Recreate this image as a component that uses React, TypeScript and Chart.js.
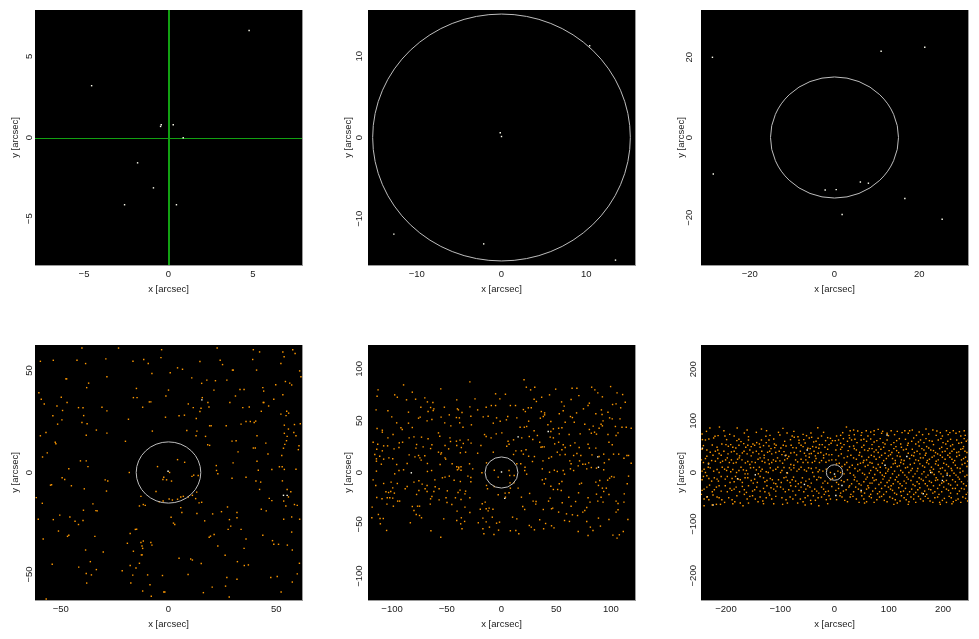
import React, { useEffect, useRef } from 'react';
import { Chart, registerables } from 'chart.js';

Chart.register(...registerables);

const FONT = "'Liberation Sans', Arial, Helvetica, sans-serif";
const FONT_SIZE = 9.5;
const TEXT = '#1a1a1a';
const ORANGE = '#ff9900';
const WHITE = '#fffff0';
const RING = '#bdbdbd';
const GREEN = '#12a012';
const FRAME = '#9a9a9a';

// axis half-ranges (arcsec) and tick values for the six panels
const X_MAX = [7.9, 15.75, 31.5, 62, 122, 246];
const Y_MAX = [7.85, 15.7, 31.8, 62.5, 123, 247];
const TICKS = [
  [-5, 0, 5],
  [-10, 0, 10],
  [-20, 0, 20],
  [-50, 0, 50],
  [-100, -50, 0, 50, 100],
  [-200, -100, 0, 100, 200],
];
const RING_RADIUS = [0, 15.2, 15.1, 15, 15, 15];
const CROSS_AT = [0, 0];
const Y_LABEL_OFFSET = [6, 8.5, 11.5, 6, 8.5, 8];
const X_TITLE = 'x [arcsec]';
const Y_TITLE = 'y [arcsec]';

// panel 1
const P1_WHITE = [[4.77, 6.59], [-4.55, 3.19], [-0.43, 0.78], [-0.47, 0.68], [0.28, 0.78], [0.87, -0.02], [-1.83, -1.56], [-0.89, -3.1], [-2.6, -4.14], [0.47, -4.14]];
// panel 2
const P2_WHITE = [[-0.15, 0.58], [0, 0.12], [10.4, 11.3], [-12.7, -11.9], [-2.1, -13.1], [13.45, -15.1]];
// panel 3
const P3_WHITE = [[-28.8, 20], [11, 21.5], [21.3, 22.5], [-28.6, -9.1], [-2.2, -13.1], [0.4, -13], [6.1, -11.1], [8, -11.4], [16.6, -15.2], [1.8, -19.2], [25.4, -20.4]];

// panel 4
const P4_ORANGE = [[-40.2,61],[-23.2,61],[22.6,61],[-3.2,60.2],[39.4,60.2],[57.7,60.2],[53.1,59.1],[42.3,59.1],[58.8,58.3],[53.7,56.7],[39.1,55.4],[-29.1,55.7],[-11.5,55.4],[-3.5,56.3],[14.6,54.4],[24,55],[-59.5,54.5],[-53.5,55],[-42.5,55],[-16.5,54.5],[-38.5,53.4],[-9.4,53.4],[4.2,51.3],[6.5,50.6],[25.1,52.9],[52.2,53.4],[29.7,50.2],[30.1,50.2],[40.9,50.2],[60.9,49.8],[-7.7,48.5],[0.8,48.9],[10.8,46.4],[-28.6,46.9],[61.5,46.9],[-47.7,45.9],[-47.3,45.9],[17.8,45.3],[21.8,45],[27.1,45.3],[54.3,44.6],[15.4,43.7],[-37.1,43.8],[56.3,43.8],[57.2,42.9],[49.8,43],[-38,41.6],[-14.9,41.2],[43.8,41.6],[33.2,40.7],[35.1,40.7],[0,40.4],[21.1,40.4],[-60.2,39.1],[44.2,39.9],[53.1,38.1],[31.1,37.5],[-49.8,36.9],[-16.3,36.7],[-14.6,36.7],[-1.2,37.5],[15.7,36.7],[-59.1,35.9],[48.9,35.9],[-8.9,34.6],[-8.2,34.6],[18.3,34.3],[28.5,34.3],[44,34.3],[44.3,34.3],[46.5,32.6],[-47.1,34.3],[-57.7,33.6],[-51.8,32.6],[18.8,32.1],[-30.9,32],[-41.8,31.8],[-39.7,31.7],[-12,32],[9.2,33.6],[11.5,31.8],[15.1,31.5],[34.5,31.8],[37.5,32.1],[-28.6,30.2],[-49.2,30.4],[14.6,29.9],[43.1,30],[54.9,30],[55.8,29.1],[52.2,28.6],[54.6,27.9],[-53.7,27.8],[-39.4,27.9],[4.9,27.8],[7.4,28.1],[-1.4,27.1],[-49.5,25.8],[-18.6,26.1],[12.9,26.5],[-40.2,24.5],[-37.8,23.9],[-51.5,23.7],[36,25],[38,25],[39.8,24.5],[40.5,25.2],[58.5,23.5],[53.8,23.2],[19.1,22.9],[19.8,22.9],[26.8,22.9],[33.7,23.7],[61.2,23.9],[-33.5,20.8],[-7.5,20.3],[8.5,20.6],[13.2,20.3],[55.7,21.3],[58.2,19.6],[-56.9,19.6],[-28.6,19.3],[53.8,19.2],[-59.5,18],[-38.2,18.3],[12.8,18],[17.2,17.7],[41.1,18],[55.1,17.7],[59.2,18],[-20,15.3],[-52.6,14.8],[-52.3,14.1],[29.5,15.4],[31.4,15.6],[45.2,14.4],[54.8,15.6],[18.2,13.6],[19.1,13.3],[60.6,13.1],[54,13.8],[39.4,12],[40.3,12],[53.4,11.9],[60.3,11.2],[-56.3,9.6],[-58.5,7.6],[32.3,10.1],[46.2,9.1],[52.6,8.3],[-40.9,5.7],[-38.2,5.7],[30,4.7],[-5.1,2.9],[22.2,3.4],[41.1,5.5],[4.2,6.3],[7.5,5],[-46.3,1.8],[-37.4,2.9],[51.5,2.8],[52.8,2.8],[53.8,1.5],[48,1.5],[22.3,1],[22.9,-0.6],[41.7,1.1],[59.2,1.6],[-18.2,0],[0.5,0],[10.9,-1.9],[11.7,-1.3],[13.8,-1.5],[-2.2,-2.3],[-2.6,-3.4],[-0.9,-3.6],[1.4,-4.2],[-49.4,-2.6],[-48.2,-3.4],[-54.3,-6],[-54.8,-6.2],[-45.1,-6.5],[-29.4,-3.6],[-28.2,-4.2],[29.5,-2.8],[36,-2.3],[40.6,-4.2],[42.8,-4.7],[52.9,-4.1],[-39.1,-8],[-28.8,-9.1],[42.3,-8.3],[55.1,-8.3],[56.8,-9.4],[-5.8,-9.3],[13.1,-9.6],[-12.8,-11.7],[6.9,-11.7],[5.7,-12],[4.2,-13.1],[1.8,-13.5],[0.3,-13],[-2.5,-14],[9.2,-12],[11.1,-11.2],[12.6,-12.8],[14.2,-14.9],[15.4,-14.6],[46.8,-12.7],[48,-13.8],[55.7,-12],[53.5,-14],[-61.4,-12.3],[-58.6,-15.1],[-35.1,-15.4],[-13.5,-16.4],[-11.7,-15.7],[-10.8,-16.1],[-4.3,-14.4],[5.7,-17.2],[27.4,-16.9],[54.5,-16.4],[58.5,-15.7],[59.8,-16.1],[-33.7,-18.7],[-39.5,-18.5],[-33.1,-18.8],[6.2,-19.6],[43.1,-18],[13.2,-20.1],[20.5,-20.3],[24.6,-19.2],[31.8,-19.6],[45.4,-18.8],[-53.5,-23.1],[-60.5,-22.9],[-50.5,-20.9],[-45.8,-21.8],[-43.4,-23.9],[-39.7,-23.5],[-41.8,-25.5],[1.2,-21.9],[2.3,-24.8],[2.9,-25.5],[16.8,-23.7],[28.3,-23.1],[28.9,-26.3],[31.8,-22.2],[53.5,-22.9],[57.2,-21.8],[60.9,-22.9],[-51.1,-28.7],[-46.3,-30.8],[-46.9,-31.3],[-34.2,-31.3],[-17.8,-29.9],[-15.4,-27.9],[-14.8,-27.8],[27.7,-27.9],[33.7,-27.9],[36,-32.6],[43.8,-30.8],[57.2,-29.2],[18.9,-31.7],[19.5,-31.2],[21.2,-30.4],[-58.2,-32.6],[-19.1,-34.7],[-12.8,-34.3],[-11.7,-33.6],[-8.2,-34.3],[-7.7,-35.6],[-12,-37.2],[-12.3,-36],[48.3,-33.4],[48.9,-35.2],[51.1,-35.2],[55.2,-35.6],[22.9,-36],[-38.5,-38],[-30.3,-39],[-16.3,-38.6],[-12.6,-40.4],[-12.2,-40.4],[35.1,-37.2],[57.5,-38],[-36.3,-43.7],[10.3,-42.4],[11.1,-42.9],[15.2,-44.6],[26.3,-40.6],[32,-43.7],[4.9,-42],[-13.5,-44.5],[-15.1,-46.8],[60.8,-44.5],[-54,-45],[-41.7,-46.4],[-33.5,-47.6],[-17.8,-45.6],[-2.8,-50.5],[35.2,-45.6],[37.1,-45.3],[-21.5,-48.2],[-38.2,-49.5],[-35.8,-50.2],[-16.6,-50.3],[-9.7,-50.2],[9.1,-50],[47.5,-51.5],[50.5,-51],[57.5,-53.7],[59.8,-49.7],[-38,-54.2],[-17.5,-54.2],[31.8,-52.3],[27.1,-51.5],[-12,-58.1],[-8.6,-55],[-2.2,-58.6],[16.2,-58.9],[26.5,-55.7],[52.3,-58.6],[20.3,-56.2],[-56.8,-62],[-8,-60.7],[28.2,-61],[-1.7,-58.6]];
const P4_WHITE = [[15.5, 35.6], [-0.2, 0.6], [53.4, -11.2], [55.1, -11.2]];

// panel 5
const P5_ORANGE = [[-28.9,87.4],[-89.5,84.5],[-55.5,80.7],[-112.8,79.7],[-81.5,77.5],[-113.7,73.6],[-97.6,74.9],[-95.2,72.6],[-86.8,70.1],[-78.5,70.7],[-70.1,72],[-67.7,68.1],[-62.7,67.5],[-40.9,70.1],[-24.2,71],[-5.4,75.9],[-1.5,71],[-73.7,63],[-64.8,62.7],[-61.8,61.4],[-62.4,59.8],[-52.2,63],[-40.3,61.4],[-39.4,60.4],[-28.9,63.3],[-21.8,60.4],[-14,63],[-9.3,64.6],[-5.4,64.6],[-114.6,60.4],[-103.8,59.5],[-85,58.2],[-67.1,58.8],[-47.7,55.6],[-36.1,57.9],[-28,54.3],[-16.7,53.7],[-12.2,54.3],[-100.3,53.7],[-75.8,52.4],[-74.3,53.4],[-63.6,51.1],[-55.2,53.4],[-41.2,53],[-38.5,52.7],[-4.5,52.7],[-95.8,47.9],[-85,47.6],[-68,49.8],[-51.9,47.9],[-46.3,45],[-38.2,47.9],[-27.5,46],[-7.5,47.6],[-1.2,49.5],[-113.7,42.4],[-108.9,40.8],[-91.9,43.1],[-90.7,41.5],[-81.5,43.4],[-35.2,43.7],[-108.9,38.9],[-99.1,36.6],[-103.8,33.4],[-84.4,33.4],[-80,34.4],[-73.1,34.1],[-67.1,32.5],[-57.6,38.2],[-56.4,35],[-47.1,33.4],[-41.2,30.2],[-37.9,31.2],[-30.4,31.5],[-15.5,36.6],[-14,34.7],[-9.5,33.4],[-4.8,37.3],[-117.3,29.2],[-113.1,27.3],[-107.7,25.7],[-104.1,25.7],[-93.4,28.6],[-90.4,29.2],[-77.6,27],[-63.6,26.7],[-51.6,26],[-46.6,29.9],[-40.9,26],[-34.9,28],[-27.8,28.3],[-18.8,26],[-114,22.5],[-108.9,20.9],[-98.2,22.8],[-93.7,24.1],[-84.4,17],[-78.2,23.5],[-71.6,24.7],[-64.8,23.1],[-54.9,19],[-48.3,22.8],[-37.6,19],[-36.7,24.1],[-32.8,19.6],[-21.8,18.6],[-7.5,19.6],[-115.8,17.4],[-114.3,13.2],[-111.3,15.7],[-107.7,12.9],[-102.9,14.1],[-99.4,13.2],[-79.1,15.1],[-75.8,16.4],[-74.6,14.1],[-70.1,16.1],[-57.6,19.6],[-55.5,17.7],[-51.6,14.1],[-51,12.9],[-114.3,10.9],[-109.8,8],[-95.8,7.7],[-86.2,8.7],[-73.4,11.9],[-67.7,8.7],[-56.1,7.7],[-40.9,5.5],[-39.1,5.1],[-37,5.5],[-39.1,3.5],[-45.1,8.4],[-29.2,8.4],[-13.7,9.3],[-114.3,1.3],[-97.6,-1.3],[-93.7,1.9],[-89.5,2.6],[-67.7,1],[-63.9,1.9],[-40.3,2.6],[-37,2.2],[-30.7,-3.5],[-26.3,3.5],[-17.9,-0.3],[-6.6,2.2],[-117.3,-7.1],[-107.7,-10.6],[-100.9,-9.3],[-95.2,-10.6],[-99.4,-14.8],[-114.9,-12.5],[-86.2,-13.5],[-80,-9.3],[-75.5,-8],[-72.5,-11.2],[-68,-12.5],[-60.6,-13.8],[-60.9,-7.1],[-54,-5.1],[-51.6,-4.5],[-47.7,-3.5],[-43.3,-7.4],[-37.6,-8.7],[-28,-9],[-28,-4.8],[-13.7,-12.5],[-3,-4.5],[-105.6,-18.6],[-103.2,-19.3],[-101.2,-18.3],[-97.9,-19.9],[-109.2,-25.4],[-104.4,-24.4],[-102.1,-24.4],[-99.4,-24.7],[-94.9,-27.6],[-93.1,-27.6],[-114,-24.1],[-88,-15.7],[-77.6,-21.2],[-75.5,-17.4],[-69.8,-15.7],[-68,-18.3],[-63.6,-23.1],[-64.8,-25.4],[-61.8,-18.3],[-57,-15.7],[-49.5,-17.7],[-49.8,-28.9],[-39.7,-19.3],[-37.9,-17],[-37,-26],[-42.1,-24.4],[-28.9,-24.4],[-32.8,-18],[-33.4,-20.6],[-17.6,-30.2],[-14.9,-28.6],[-12.8,-15.7],[-6.6,-13.5],[-3,-21.5],[-118.2,-33.4],[-104.7,-30.5],[-98.8,-32.5],[-81.5,-32.8],[-80,-36.6],[-76.7,-32.5],[-74.9,-32.5],[-65.1,-30.5],[-57,-26.4],[-50.7,-24.4],[-45.4,-30.9],[-40.6,-37.3],[-33.4,-33.4],[-28.9,-38.6],[-19.4,-35.4],[-14,-35],[-12.2,-37],[-11.3,-34.4],[-7.8,-35.4],[-8.4,-43.1],[-112.5,-40.5],[-111,-44.4],[-108,-44.4],[-118.5,-43.7],[-77.9,-40.5],[-74.9,-41.5],[-73.1,-43.7],[-52.8,-44.7],[-40.9,-46.3],[-36.7,-43.7],[-33.7,-47.2],[-37.3,-49.5],[-36.1,-54.3],[-17,-44],[-21.2,-48.5],[-17,-54.3],[-11,-52.7],[-14,-47.6],[-4.5,-48.9],[-1.8,-47.9],[-110.7,-49.5],[-83.3,-48.5],[-64.5,-56.2],[-105,-55.9],[-55.5,-62.4],[-16.1,-59.1],[-6.9,-59.8],[-2.7,-55.6],[20.6,89.4],[26.6,79.7],[22.7,82.3],[30.4,82.3],[3.6,75.5],[64.5,81.3],[68.9,81.3],[49.5,80.4],[82.4,82.3],[85.3,79.7],[88,76.8],[99.7,82.9],[105.6,76.8],[36.7,72.6],[43.9,74.9],[63.6,70.4],[70.7,74.2],[92.2,73],[110.7,75.2],[29.8,70.7],[31.9,68.5],[8.1,64.6],[12.8,64.6],[24.5,62.4],[27.2,62.4],[20,60.7],[21.8,58.8],[36.4,58.8],[39.4,57.5],[38.2,54],[54.9,68.1],[57.3,64],[56.4,59.5],[52.8,56.6],[63,54],[64.8,53],[68.6,57.5],[74.9,61.4],[79.1,64.6],[80.3,66.9],[86.2,56.6],[91.3,60.4],[91.9,55.9],[97.3,58.2],[101.5,65.6],[104.7,66.2],[108.9,62.4],[113.1,67.8],[4.5,50.8],[5.7,54],[14,52.7],[24.8,49.5],[35.5,52.4],[39.4,55.6],[42.4,46],[45.1,49.2],[58.2,48.5],[66.5,48.5],[76.1,46.6],[83.8,44.7],[91,46.6],[92.8,49.8],[98.8,52.7],[101.2,51.7],[104.1,44.4],[108.3,51.7],[110.1,43.7],[118.5,42.7],[17,43.7],[20.9,43.7],[23,44.4],[29.8,40.2],[45.1,39.5],[47.4,42.1],[52.2,42.7],[52.8,37.3],[55.2,43.1],[61.8,36.6],[71.9,37.3],[80.3,41.5],[82.1,37.9],[85,38.9],[86.8,37],[89.2,42.7],[92.2,45],[97.3,36.6],[98.2,29.2],[104.7,35.7],[106.5,38.2],[114,43.7],[0.3,38.2],[6,30.2],[4.8,25.4],[6.9,27.3],[11,31.5],[18.5,33.4],[25.4,34.7],[28.6,31.8],[32.8,35.7],[34.9,29.2],[36.1,24.4],[37.3,24.7],[39.1,24.7],[44.5,34.1],[47.4,33.4],[48.6,27.6],[52.2,29.2],[56.4,26.7],[55.2,21.9],[58.2,24.1],[63,26],[67.1,28.6],[71,24.1],[79.1,27.3],[80.3,23.5],[82.7,17],[86.2,23.5],[89.2,15.4],[93.4,17.7],[94,9.3],[102.4,17.7],[101.2,26.7],[107.1,17.7],[98.2,12.5],[111.9,13.8],[114.6,16.4],[116.1,16.4],[118.5,9],[11,17.4],[13.1,20.9],[18.2,20.9],[20,17.7],[22.4,21.9],[24.8,15.7],[30.1,15.4],[37.9,11.2],[43.3,13.8],[45.7,15.1],[51,19.6],[53.4,17],[58.2,17.4],[62.4,11.2],[63.6,8.4],[65.9,16.4],[68.9,18.3],[71.3,11.2],[72.5,16.4],[74.3,8],[76.7,8],[14,8.4],[17.6,8.4],[21.5,5.1],[21.2,1.9],[23,-1.6],[28.3,10.6],[37.3,3.5],[43.9,0.3],[48.3,2.2],[51,1],[56.4,1.9],[57.6,-1.6],[63,3.5],[65.9,1.9],[70.1,6.4],[77.9,3.5],[79.7,9.3],[82.1,4.8],[86.8,4.2],[93.4,2.6],[6.9,1.9],[7.5,-2.9],[11.6,-2.9],[7.8,-10],[11.3,-10],[8.1,-15.1],[3.3,-19.9],[3.6,-23.8],[6.9,-19.6],[15.2,-15.1],[18.2,-23.8],[25.7,-20.2],[28.9,-27.6],[31.6,-28],[37.3,-7.1],[39.1,-10.9],[40.3,-6.1],[45.1,-13.2],[47.4,-16.4],[51.3,-16.4],[55.2,-8.7],[52.8,-10.9],[54.6,-17.4],[43,-27.6],[44.5,-24.7],[46.8,-34.4],[52.2,-38.2],[55.5,-29.2],[61.5,-23.8],[63.6,-32.5],[71.3,-11.2],[73.1,-10.3],[70.4,-19.6],[67.7,-28],[77.9,-33.7],[76.1,-36.6],[80.9,-28.6],[79.1,-24.4],[86.2,-9.3],[88.6,-12.5],[89.8,-7.7],[92.2,-15.1],[93.4,-18.3],[95.8,-15.1],[97,-7.4],[98.8,-5.5],[100.6,-3.9],[102.9,-4.5],[91,-23.8],[86.8,-20.9],[88,-27.6],[92.8,-28.6],[98.2,-21.2],[104.7,-27.6],[106.5,-29.9],[111.9,-28.6],[114.9,-10.9],[116.1,-3.5],[112.2,-20.6],[19.4,-32.8],[21.2,-35.7],[31.3,-30.5],[38.2,-35.7],[45.7,-35],[59.4,-39.9],[64.8,-40.8],[69.5,-41.5],[74.3,-38.2],[77.9,-47.2],[81.2,-52.7],[83.6,-55.9],[88.6,-44],[98.2,-45.3],[104.7,-38.2],[106.5,-36],[115.5,-45.3],[10.1,-43.1],[14,-44.7],[25.4,-51.1],[27.2,-52.7],[34.9,-45.6],[38.5,-54.3],[40.3,-49.2],[45.7,-51.4],[48,-53.4],[57.6,-46.3],[62.1,-47.2],[70.1,-56.9],[79.1,-60.7],[90.4,-51.7],[101.8,-60.4],[105.6,-63.3],[107.7,-60.1],[111.3,-56.9],[8.1,-56.2],[13.1,-55.9],[15.8,-59.1],[30.1,-55.3]];
const P5_WHITE = [[-82.4, -0.3], [0, 0.5], [15.2, 34.4], [42.7, 39.5], [88, 15.1], [88.6, 5.1], [3, -25]];

// panel 6 (first reading pass)
const P6_ORANGE = [[-229.6,86.2],[-212,88.1],[-179.3,86.2],[-134.6,84.2],[-95,85.5],[-30.8,86.8],[-247.8,81],[-235.9,79.7],[-220.2,70.1],[-222.7,66.9],[-214.5,71.4],[-201.9,70.7],[-193.1,73.9],[-184.9,70.7],[-176.1,64.3],[-172.3,59.8],[-166.1,76.5],[-158.5,69.4],[-158.5,63],[-150.3,55.3],[-143.4,57.9],[-138.4,55.3],[-126.4,70.1],[-118.9,72],[-120.8,63],[-103.2,77.8],[-100.6,72.7],[-87.4,76.5],[-78,70.7],[-74.2,68.2],[-67.3,69.4],[-65.4,62.4],[-57.9,73.9],[-56.6,63.7],[-51.6,71.4],[-46.5,66.9],[-42.1,68.2],[-38.4,59.2],[-30.2,66.2],[-23.9,70.7],[-12.6,67.5],[-7.5,66.2],[-3.8,61.7],[-249.1,58.5],[-243.4,63.7],[-237.8,63],[-225.2,53.4],[-207.6,55.3],[-200,54],[-195.6,50.8],[-191.2,54],[-187.4,48.9],[-176.1,52.7],[-167.3,55.9],[-159.8,52.7],[-156,43.7],[-147.2,52.7],[-137.1,48.9],[-130.8,52.1],[-125.8,57.9],[-120.8,51.4],[-117,46.3],[-110.1,48.2],[-107.6,52.7],[-98.8,47.6],[-89.3,51.4],[-79.9,52.7],[-76.7,48.2],[-65.4,57.2],[-61.6,52.7],[-54.1,57.2],[-49.1,46.9],[-44.7,46.3],[-40.3,50.2],[-34,48.9],[-27.7,54],[-22.6,54],[-17.6,48.9],[-10.1,54],[-6.3,56.6],[-248.5,42.4],[-244,45],[-235.2,43.7],[-219.5,41.2],[-215.1,43.7],[-212.6,36.7],[-203.8,41.2],[-196.2,36],[-190,39.9],[-179.9,36],[-169.8,37.9],[-166.7,41.2],[-153.5,32.2],[-150.3,38.6],[-144,41.2],[-134,41.2],[-123.3,39.2],[-115.7,36],[-108.2,38.6],[-101.9,41.2],[-96.9,34.7],[-89.3,33.4],[-80.5,37.9],[-74.2,38.6],[-69.8,34.1],[-55.4,37.3],[-52.8,32.2],[-42.8,36.7],[-37.7,41.2],[-30.2,37.3],[-25.2,38.6],[-15.1,36],[-10.1,34.1],[-5,34.7],[-250.3,25.1],[-245.3,24.4],[-241.5,19.3],[-232.1,18],[-226.4,23.1],[-215.1,27],[-210.1,19.3],[-206.3,21.9],[-200.7,24.4],[-197.5,28.3],[-190,24.4],[-186.2,18],[-181.2,19.3],[-175.5,28.3],[-170.5,24.4],[-164.2,18.6],[-159.8,21.2],[-156,15.4],[-152.2,20.6],[-140.9,25.7],[-137.1,28.3],[-129.6,28.3],[-122,24.4],[-120.1,16.7],[-112.6,24.4],[-105,28.3],[-100.6,22.5],[-91.8,24.4],[-80.5,15.4],[-74.9,14.1],[-67.9,20.6],[-61.6,25.7],[-52.8,24.4],[-46.5,29.6],[-40.9,19.3],[-34,27],[-27.7,19.3],[-23.9,23.1],[-15.7,19.9],[-10.1,23.1],[-235.2,31.5],[-223.9,33.4],[-138.4,10.3],[-128.3,19.3],[-247.8,10.3],[-240.3,6.4],[-237.8,0],[-229,9],[-222.7,2.6],[-216.4,5.8],[-206.9,10.3],[-198.8,3.9],[-196.2,10.3],[-187.4,5.8],[-180.5,0],[-172.3,10.3],[-167.9,5.1],[-162.3,3.9],[-159.8,-2.6],[-149.1,9.6],[-144,5.1],[-140.3,-2.6],[-133.3,6.4],[-125.8,1.3],[-118.3,9],[-113.2,3.9],[-104.4,10.3],[-99.4,0],[-93.1,9.6],[-86.8,-1.3],[-79.9,5.1],[-74.9,9],[-69.2,2.6],[-61.6,10.3],[-55.4,5.1],[-47.8,9],[-40.3,0],[-34,9],[-27.7,5.1],[-21.4,2.6],[-249.1,-9],[-244,-14.1],[-235.2,-6.4],[-231.5,-11.6],[-221.4,-10.3],[-213.9,-16.7],[-208.8,-7.7],[-201.3,-12.9],[-192.5,-19.3],[-188.7,-11.6],[-182.4,-7.7],[-173.6,-14.1],[-169.8,-19.3],[-159.8,-10.3],[-153.5,-15.4],[-147.2,-12.9],[-142.2,-19.3],[-130.8,-10.3],[-124.5,-15.4],[-118.3,-11.6],[-112,-20.6],[-108.2,-21.9],[-103.2,-14.1],[-93.1,-10.3],[-86.8,-15.4],[-81.8,-19.3],[-75.5,-9],[-71.7,-16.7],[-66.7,-21.9],[-59.1,-10.3],[-52.8,-16.7],[-42.8,-20.6],[-37.7,-7.7],[-32.7,-14.1],[-25.2,-10.3],[-17.6,-16.7],[-12.6,-20.6],[-7.5,-14.1],[-247.8,-27],[-240.3,-32.2],[-230.2,-24.4],[-225.2,-37.3],[-217.6,-28.3],[-208.8,-36],[-201.3,-25.7],[-192.5,-30.9],[-189.3,-34.7],[-181.2,-28.3],[-174.9,-37.3],[-166.1,-33.4],[-158.5,-25.7],[-151,-36],[-143.4,-28.3],[-137.1,-36],[-130.8,-30.9],[-124.5,-25.7],[-120.8,-39.9],[-112,-32.2],[-105.7,-27],[-99.4,-28.3],[-90.6,-37.3],[-84.3,-33.4],[-76.7,-36],[-71.7,-27],[-65.4,-34.7],[-56.6,-37.3],[-49.1,-25.7],[-41.5,-36],[-36.5,-32.2],[-28.9,-39.9],[-23.9,-28.3],[-16.4,-37.3],[-11.3,-36],[-249.1,-39.9],[-245.3,-42.4],[-235.2,-47.6],[-231.5,-52.7],[-216.4,-47.6],[-212.6,-48.9],[-202.5,-57.9],[-188.7,-52.7],[-179.9,-45],[-173.6,-59.2],[-166.1,-42.4],[-156,-46.3],[-145.9,-51.4],[-137.1,-47.6],[-132.1,-55.3],[-119.5,-43.7],[-115.7,-51.4],[-96.9,-48.9],[-81.8,-47.6],[-71.7,-43.7],[-62.9,-51.4],[-54.1,-48.9],[-44,-54],[-39,-45],[-30.2,-48.9],[-18.9,-42.4],[-15.1,-52.7],[-7.5,-51.4],[-240.3,-64.3],[-225.2,-63],[-217.6,-61.7],[-187.4,-60.4],[-158.5,-59.2],[-130.8,-60.4],[-95.6,-61.7],[-86.8,-59.2],[-67.9,-59.2],[-42.8,-60.4],[-28.9,-64.3],[-12.6,-60.4],[22,88.1],[28.9,81],[42.8,80.4],[58.5,81],[73,81],[88.7,79.7],[104.4,81],[129.6,81],[143.4,82.3],[168.6,84.2],[181.2,82.3],[188.7,80.4],[206.3,81],[218.9,81],[230.2,79.1],[240.9,72],[247.2,74.6],[3.8,70.7],[11.3,72],[27,72],[36.5,73.3],[49.1,72],[61.6,70.7],[73,73.3],[86.8,75.9],[99.4,71.4],[110.7,73.3],[124.5,77.2],[135.9,75.9],[151,72],[162.3,73.3],[173.6,74.6],[187.4,72],[198.8,70.7],[209.5,73.3],[223.9,75.9],[232.7,70.7],[7.5,63],[16.4,65.6],[23.9,60.4],[31.5,63],[41.5,57.9],[49.1,63],[59.1,60.4],[66.7,64.9],[78,61.7],[89.3,57.9],[96.9,63],[104.4,54],[114.5,61.7],[122,55.3],[130.8,64.3],[142.2,60.4],[149.7,55.3],[158.5,63],[164.8,57.9],[174.9,61.7],[182.4,54],[191.2,63],[200,57.9],[208.8,60.4],[217.6,54],[225.2,63],[234,57.9],[242.8,60.4],[249.1,55.3],[5,52.7],[17.6,54],[35.2,51.4],[54.1,52.7],[69.2,54],[81.8,50.2],[113.2,50.2],[134.6,52.7],[156,51.4],[169.8,50.2],[197.5,48.9],[213.9,51.4],[237.8,50.2],[2.5,43.7],[11.3,45],[25.2,42.4],[36.5,46.3],[46.5,38.6],[55.4,43.7],[64.2,46.3],[73,39.9],[76.7,43.7],[85.5,45],[93.1,37.3],[100.6,42.4],[109.4,46.3],[118.3,38.6],[127.1,43.7],[135.9,37.3],[143.4,45],[152.2,41.2],[161,46.3],[168.6,37.3],[177.4,43.7],[186.2,38.6],[193.7,46.3],[203.8,41.2],[212.6,37.3],[220.2,45],[229,39.9],[236.5,46.3],[244,38.6],[249.1,43.7],[7.5,32.2],[17.6,28.3],[30.2,33.4],[40.3,25.7],[50.3,30.9],[59.1,24.4],[67.9,33.4],[76.7,25.7],[83,29.6],[90.6,23.1],[99.4,32.2],[106.9,27],[115.7,32.2],[123.3,24.4],[142.2,33.4],[149.7,24.4],[158.5,28.3],[167.3,33.4],[174.9,25.7],[183.7,32.2],[191.2,24.4],[198.8,29.6],[208.8,33.4],[216.4,25.7],[225.2,30.9],[234,24.4],[241.5,29.6],[247.8,33.4],[3.8,16.7],[13.8,11.6],[22.6,19.3],[32.7,14.1],[37.7,7.7],[47.8,18],[56.6,11.6],[65.4,19.3],[71.7,10.3],[80.5,15.4],[88.1,18],[94.4,9],[99.4,6.4],[108.2,16.7],[115.7,11.6],[122,19.3],[130.8,9],[139.6,15.4],[147.2,18],[153.5,7.7],[162.3,12.9],[169.8,19.3],[178.6,10.3],[186.2,16.7],[195,7.7],[201.3,18],[210.1,11.6],[218.9,19.3],[226.4,9],[235.2,15.4],[244,11.6],[6.3,2.6],[17.6,-2.6],[23.9,5.1],[35.2,-5.1],[42.8,2.6],[51.6,-1.3],[60.4,-9],[66.7,3.9],[74.2,-3.9],[84.3,0],[91.8,-7.7],[98.1,2.6],[106.9,-2.6],[114.5,-9],[122,3.9],[129.6,-5.1],[137.1,0],[144.7,-7.7],[152.2,2.6],[161,-2.6],[168.6,-9],[176.1,3.9],[183.7,-3.9],[192.5,1.3],[200,-7.7],[207.6,-1.3],[216.4,3.9],[223.9,-5.1],[231.5,0],[240.3,-7.7],[247.8,-2.6],[3.8,-19.3],[12.6,-15.4],[23.9,-14.1],[31.5,-21.9],[41.5,-16.7],[49.1,-24.4],[57.9,-12.9],[65.4,-20.6],[73,-15.4],[81.8,-23.1],[89.3,-12.9],[96.9,-19.3],[104.4,-25.7],[112,-14.1],[120.8,-21.9],[128.3,-16.7],[135.9,-12.9],[144.7,-23.1],[152.2,-18],[159.8,-12.9],[167.3,-21.9],[174.9,-16.7],[182.4,-25.7],[190,-14.1],[197.5,-20.6],[206.3,-15.4],[213.9,-24.4],[222.7,-18],[230.2,-12.9],[237.8,-21.9],[246.6,-16.7],[7.5,-30.9],[16.4,-36],[26.4,-28.3],[35.2,-37.3],[44,-32.2],[55.4,-39.9],[62.9,-29.6],[70.4,-36],[79.3,-41.2],[86.8,-30.9],[95.6,-37.3],[103.2,-32.2],[110.7,-39.9],[118.3,-29.6],[127.1,-36],[134.6,-42.4],[142.2,-32.2],[149.7,-38.6],[157.3,-29.6],[166.1,-36],[173.6,-32.2],[181.2,-39.9],[190,-30.9],[197.5,-37.3],[206.3,-32.2],[213.9,-39.9],[222.7,-30.9],[230.2,-36],[239,-32.2],[246.6,-38.6],[10.1,-45],[18.9,-54],[28.9,-47.6],[40.3,-51.4],[50.3,-45],[59.1,-56.6],[67.9,-48.9],[78,-52.7],[86.8,-46.3],[96.9,-56.6],[106.9,-50.2],[115.7,-59.2],[123.3,-45],[132.1,-52.7],[140.9,-47.6],[149.7,-57.9],[158.5,-51.4],[167.3,-46.3],[176.1,-55.3],[184.9,-48.9],[193.7,-57.9],[202.5,-50.2],[211.3,-46.3],[218.9,-56.6],[227.7,-51.4],[236.5,-47.6],[245.3,-55.3],[55.4,-59.2],[109.4,-61.7],[135.9,-61.7],[195,-61.7],[216.4,-60.4]];
// panel 6 (second reading pass, points between the first ones)
const P6_ORANGE_MORE = [[-161,82.3],[-144,77.8],[-125.2,81],[-74.9,79.7],[-43.4,76.5],[-20.1,77.8],[-244,74.6],[-203.8,81],[-231.5,64.9],[-198.8,63.7],[-179.9,61.7],[-134.6,63],[-112,64.9],[-91.8,60.4],[-81.1,63.7],[-34,60.4],[-16.4,61.7],[-241.5,52.1],[-216.4,48.9],[-181.8,47.6],[-163.5,48.9],[-153.5,50.2],[-110.7,55.3],[-94.4,52.7],[-70.4,47.6],[-57.9,50.2],[-28.9,46.9],[-12.6,45],[-229,39.2],[-208.8,33.4],[-184.9,41.2],[-174.9,32.2],[-161,36],[-139.6,36],[-129.6,33.4],[-119.5,41.2],[-93.1,40.5],[-84.3,30.9],[-62.9,41.2],[-46.5,36],[-35.2,32.2],[-20.1,33.4],[-237.8,27],[-219.5,21.9],[-193.7,19.3],[-178.6,25.7],[-145.9,19.3],[-133.3,21.9],[-115.7,19.3],[-108.2,21.9],[-95.6,18],[-86.8,27],[-71.7,24.4],[-57.9,19.3],[-49.1,19.3],[-36.5,21.9],[-20.1,28.3],[-5,24.4],[-244,2.6],[-232.7,10.3],[-212.6,0],[-202.5,6.4],[-191.2,1.3],[-176.1,3.9],[-164.8,-2.6],[-154.7,9],[-135.9,2.6],[-122,0],[-108.2,6.4],[-96.9,3.9],[-83,9],[-65.4,6.4],[-51.6,2.6],[-42.8,7.7],[-30.2,1.3],[-15.1,6.4],[-7.5,0],[-241.5,-7.7],[-226.4,-16.7],[-216.4,-12.9],[-197.5,-7.7],[-184.9,-18],[-177.4,-12.9],[-164.8,-10.3],[-149.7,-20.6],[-137.1,-7.7],[-128.3,-18],[-114.5,-14.1],[-98.1,-19.3],[-89.3,-9],[-78,-14.1],[-61.6,-19.3],[-46.5,-12.9],[-28.9,-9],[-21.4,-20.6],[-3.8,-11.6],[-244,-34.7],[-235.2,-28.3],[-221.4,-33.4],[-212.6,-25.7],[-197.5,-37.3],[-184.9,-32.2],[-169.8,-27],[-162.3,-38.6],[-147.2,-33.4],[-128.3,-37.3],[-117,-29.6],[-108.2,-36],[-94.4,-32.2],[-80.5,-25.7],[-61.6,-28.3],[-52.8,-32.2],[-45.3,-28.3],[-32.7,-36],[-20.1,-32.2],[-5,-27],[-240.3,-51.4],[-223.9,-43.7],[-207.6,-52.7],[-195,-48.9],[-183.7,-56.6],[-161,-51.4],[-151,-45],[-140.9,-56.6],[-125.8,-48.9],[-108.2,-46.3],[-89.3,-52.7],[-76.7,-51.4],[-57.9,-56.6],[-49.1,-45],[-35.2,-54],[-23.9,-47.6],[-10.1,-45],[-210.1,-61.7],[-168.6,-64.3],[-112,-60.4],[-54.1,-63],[15.1,77.2],[35.2,82.3],[50.3,77.2],[66.7,78.4],[80.5,83.6],[96.9,75.9],[115.7,79.7],[138.4,81],[156,78.4],[195,77.2],[212.6,77.2],[239,81],[1.3,61.7],[11.3,56.6],[27.7,66.9],[37.7,64.3],[54.1,64.3],[73,59.2],[84.3,65.6],[93.1,55.3],[109.4,57.9],[119.5,65.6],[135.9,56.6],[145.9,66.9],[154.7,59.2],[168.6,65.6],[179.9,60.4],[196.2,65.6],[205.1,55.3],[213.9,64.3],[229,56.6],[239,65.6],[246.6,63],[13.8,48.9],[27.7,50.2],[40.3,43.7],[50.3,48.9],[61.6,42.4],[69.2,46.3],[80.5,38.6],[90.6,48.9],[105.7,38.6],[114.5,42.4],[123.3,48.9],[132.1,45],[147.2,38.6],[157.3,36],[164.8,43.7],[173.6,47.6],[182.4,42.4],[190,36],[198.8,39.9],[207.6,46.3],[216.4,41.2],[225.2,38.6],[232.7,45],[240.3,41.2],[2.5,24.4],[12.6,36],[23.9,30.9],[35.2,28.3],[45.3,33.4],[54.1,23.1],[62.9,29.6],[73,30.9],[86.8,33.4],[95.6,27],[103.2,34.7],[112,23.1],[120.8,30.9],[128.3,23.1],[138.4,27],[145.9,32.2],[154.7,23.1],[163.5,28.3],[171.1,23.1],[179.9,29.6],[187.4,21.9],[195,33.4],[203.8,25.7],[212.6,29.6],[221.4,23.1],[230.2,33.4],[237.8,27],[245.3,21.9],[8.8,18],[18.9,15.4],[27.7,10.3],[42.8,15.4],[52.8,19.3],[61.6,14.1],[69.2,18],[76.7,7.7],[84.3,10.3],[104.4,10.3],[112,18],[119.5,12.9],[127.1,16.7],[134.6,10.3],[143.4,7.7],[157.3,16.7],[166.1,10.3],[173.6,16.7],[182.4,6.4],[191.2,14.1],[198.8,9],[206.3,15.4],[215.1,7.7],[222.7,14.1],[231.5,7.7],[240.3,18],[1.3,-7.7],[11.3,0],[28.9,-1.3],[37.7,-9],[46.5,5.1],[55.4,-3.9],[64.2,-1.3],[70.4,-10.3],[79.3,3.9],[88.1,-5.1],[94.4,-1.3],[103.2,-10.3],[110.7,2.6],[118.3,-5.1],[125.8,0],[133.3,-9],[140.9,3.9],[148.4,-2.6],[156,-10.3],[164.8,1.3],[172.3,-5.1],[179.9,0],[187.4,-10.3],[196.2,-2.6],[203.8,3.9],[212.6,-6.4],[220.2,-1.3],[227.7,-9],[236.5,2.6],[244,-5.1],[7.5,-23.1],[17.6,-18],[27.7,-25.7],[36.5,-14.1],[45.3,-21.9],[54.1,-18],[61.6,-25.7],[69.2,-20.6],[76.7,-14.1],[85.5,-19.3],[93.1,-25.7],[100.6,-15.4],[108.2,-21.9],[117,-18],[124.5,-25.7],[132.1,-20.6],[140.9,-15.4],[148.4,-25.7],[156,-21.9],[163.5,-15.4],[171.1,-25.7],[178.6,-19.3],[186.2,-15.4],[193.7,-24.4],[201.3,-18],[210.1,-21.9],[217.6,-14.1],[226.4,-24.4],[234,-18],[242.8,-25.7],[2.5,-34.7],[11.3,-39.9],[21.4,-33.4],[30.2,-42.4],[39,-28.3],[49.1,-37.3],[59.1,-32.2],[66.7,-42.4],[75.5,-30.9],[83,-37.3],[90.6,-42.4],[99.4,-28.3],[106.9,-34.7],[114.5,-42.4],[122,-37.3],[130.8,-30.9],[138.4,-37.3],[145.9,-42.4],[153.5,-33.4],[161,-39.9],[169.8,-42.4],[177.4,-33.4],[184.9,-37.3],[192.5,-42.4],[201.3,-28.3],[210.1,-34.7],[217.6,-30.9],[226.4,-41.2],[234,-30.9],[242.8,-42.4],[3.8,-52.7],[13.8,-47.6],[23.9,-56.6],[34,-46.3],[45.3,-57.9],[54.1,-51.4],[64.2,-46.3],[73,-57.9],[83,-47.6],[91.8,-54],[101.9,-47.6],[112,-52.7],[120.8,-55.3],[128.3,-48.9],[137.1,-56.6],[145.9,-51.4],[154.7,-46.3],[163.5,-55.3],[172.3,-50.2],[181.2,-57.9],[190,-47.6],[198.8,-54],[206.3,-57.9],[215.1,-48.9],[223.9,-54],[232.7,-57.9],[241.5,-50.2]];
const P6_WHITE = [[-243.4,46.9],[-232.1,16.7],[-178.6,-12.2],[-145.9,-4.5],[-90.6,32.8],[-87.4,-0.6],[-50.3,43.7],[-55.4,-23.1],[-234.6,-46.9],[-223.9,-63],[0,-3],[96.9,72.7],[133.3,30.9],[93.1,14.1],[49.1,-34.7],[13.8,-25.1],[207.6,-5.1],[177.4,0],[163.5,-41.2],[198.8,-15.4],[2.5,-44.4]];

const ORANGE_SETS = [[], [], [], P4_ORANGE, P5_ORANGE, P6_ORANGE.concat(P6_ORANGE_MORE)];
const WHITE_SETS = [P1_WHITE, P2_WHITE, P3_WHITE, P4_WHITE, P5_WHITE, P6_WHITE];

const COL_LEFT = [0, 333, 666];
const ROW_TOP = [0, 335];
const CANVAS_W = 303;
const CANVAS_H = 300;

const fmt = (v: number) => (v < 0 ? '\u2212' + Math.abs(v) : String(v));

function measureWidest(labels: string[]): number {
  const c = document.createElement('canvas');
  const ctx = c.getContext('2d')!;
  ctx.font = `${FONT_SIZE}px ${FONT}`;
  return Math.max(...labels.map((l) => ctx.measureText(l).width));
}

function panelPlugin(i: number) {
  return {
    id: 'panelDecor' + i,
    beforeDatasetsDraw(chart: any) {
      const { ctx, chartArea: a, scales } = chart;
      ctx.save();
      ctx.fillStyle = '#000';
      ctx.fillRect(a.left, a.top, a.right - a.left, a.bottom - a.top);
      if (i === 0) {
        ctx.strokeStyle = GREEN;
        const px = Math.round(scales.x.getPixelForValue(CROSS_AT[0]));
        const py = Math.round(scales.y.getPixelForValue(CROSS_AT[1])) + 0.5;
        ctx.lineWidth = 1;
        ctx.beginPath();
        ctx.moveTo(a.left, py);
        ctx.lineTo(a.right, py);
        ctx.stroke();
        ctx.lineWidth = 2;
        ctx.beginPath();
        ctx.moveTo(px, a.top);
        ctx.lineTo(px, a.bottom);
        ctx.stroke();
      }
      ctx.restore();
    },
    afterDatasetsDraw(chart: any) {
      const { ctx, chartArea: a, scales } = chart;
      const r = RING_RADIUS[i];
      if (r > 0) {
        const cx = scales.x.getPixelForValue(0);
        const cy = scales.y.getPixelForValue(0);
        const rx = Math.abs(scales.x.getPixelForValue(r) - cx);
        const ry = Math.abs(scales.y.getPixelForValue(r) - cy);
        ctx.save();
        ctx.beginPath();
        ctx.rect(a.left, a.top, a.right - a.left, a.bottom - a.top);
        ctx.clip();
        ctx.strokeStyle = RING;
        ctx.lineWidth = 1;
        ctx.beginPath();
        ctx.ellipse(cx, cy, rx, ry, 0, 0, Math.PI * 2);
        ctx.stroke();
        ctx.restore();
      }
    },
    afterDraw(chart: any) {
      const { ctx, chartArea: a } = chart;
      ctx.save();
      ctx.strokeStyle = FRAME;
      ctx.lineWidth = 1;
      ctx.beginPath();
      ctx.moveTo(a.left, a.bottom + 0.5);
      ctx.lineTo(a.right + 1, a.bottom + 0.5);
      ctx.moveTo(a.right + 0.5, a.top);
      ctx.lineTo(a.right + 0.5, a.bottom + 1);
      ctx.stroke();
      ctx.restore();
    },
  };
}

function Panel({ index }: { index: number }) {
  const ref = useRef<HTMLCanvasElement>(null);
  useEffect(() => {
    if (!ref.current) return;
    const i = index;
    const font = { family: FONT, size: FONT_SIZE };
    const widest = measureWidest(TICKS[i].map(fmt));
    const yPad = Y_LABEL_OFFSET[i] - widest / 2;
    const setTicks = (s: any) => {
      s.ticks = TICKS[i].map((value) => ({ value }));
    };
    const pointDs = (pts: number[][], color: string) => ({
      data: pts.map(([x, y]) => ({ x, y })),
      backgroundColor: color,
      borderWidth: 0,
      pointStyle: 'rect',
      pointRadius: 1,
      pointHoverRadius: 1,
    });
    const chart = new Chart(ref.current, {
      type: 'scatter',
      data: {
        datasets: [pointDs(ORANGE_SETS[i], ORANGE), pointDs(WHITE_SETS[i], WHITE)],
      },
      options: {
        responsive: false,
        animation: false,
        events: [],
        layout: { padding: { top: 10, right: 1, left: 0, bottom: 0 } },
        plugins: { legend: { display: false }, tooltip: { enabled: false } },
        scales: {
          x: {
            type: 'linear',
            min: -X_MAX[i],
            max: X_MAX[i],
            grid: { display: false, drawTicks: false },
            border: { display: false },
            afterBuildTicks: setTicks,
            ticks: {
              autoSkip: false,
              maxRotation: 0,
              padding: 4,
              color: TEXT,
              font,
              callback: (v: any) => fmt(Number(v)),
            },
            title: { display: true, text: X_TITLE, color: TEXT, font, padding: { top: 0, bottom: 5.3 } },
            afterFit: (s: any) => {
              s.height = 35;
            },
          },
          y: {
            type: 'linear',
            min: -Y_MAX[i],
            max: Y_MAX[i],
            grid: { display: false, drawTicks: false },
            border: { display: false },
            afterBuildTicks: setTicks,
            ticks: {
              autoSkip: false,
              minRotation: 90,
              maxRotation: 90,
              crossAlign: 'center',
              padding: yPad,
              color: TEXT,
              font,
              callback: (v: any) => fmt(Number(v)),
            },
            title: { display: true, text: Y_TITLE, color: TEXT, font, padding: { top: 9.3, bottom: 0 } },
            afterFit: (s: any) => {
              s.width = 35;
            },
          },
        },
      } as any,
      plugins: [panelPlugin(i)],
    } as any);
    return () => chart.destroy();
  }, [index]);
  const col = index % 3;
  const row = Math.floor(index / 3);
  return (
    <canvas
      ref={ref}
      width={CANVAS_W}
      height={CANVAS_H}
      style={{ position: 'absolute', left: COL_LEFT[col], top: ROW_TOP[row], width: CANVAS_W, height: CANVAS_H }}
    />
  );
}

export default function App() {
  return (
    <div style={{ position: 'absolute', left: 0, top: 0, width: 979, height: 639, background: '#fff', overflow: 'hidden' }}>
      {[0, 1, 2, 3, 4, 5].map((i) => (
        <Panel key={i} index={i} />
      ))}
    </div>
  );
}
